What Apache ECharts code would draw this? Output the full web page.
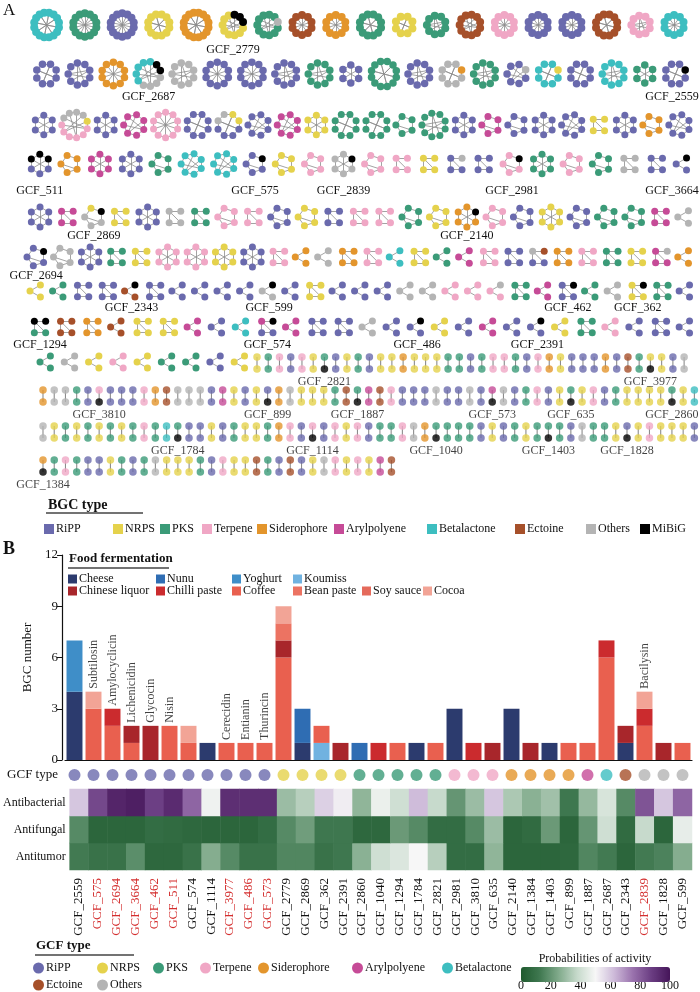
<!DOCTYPE html>
<html>
<head>
<meta charset="utf-8">
<title>BGC networks and food fermentation</title>
<script src="https://cdn.jsdelivr.net/npm/echarts@6.0.0/dist/echarts.min.js"></script>
<style>
  html, body { margin: 0; padding: 0; background: #fff; }
  #main { width: 700px; height: 992px; }
</style>
</head>
<body>
<div id="main"></div>
<script>
// ---------- panel A : BGC networks ----------
const bgcTypes = ['RiPP', 'NRPS', 'PKS', 'Terpene', 'Siderophore', 'Arylpolyene', 'Betalactone', 'Ectoine', 'Others', 'MiBiG'];
const bgcCodes = ['R', 'N', 'P', 'T', 'S', 'A', 'B', 'E', 'O', 'M'];
const bgcColors = ['#6a6aad', '#e5d24c', '#3b9b78', '#f0a7c5', '#e3952c', '#c64b97', '#3dbec0', '#a6502a', '#b4b4b4', '#000000'];

// one entry per GCF cluster: type letter + node count, ":id" marks a labelled GCF
const netRow1 = ['B16', 'P14', 'R14', 'N12', 'S16', 'N8M3:2779', 'P10O1', 'E10', 'S10', 'P12', 'N8', 'P9', 'E11', 'T10', 'R10', 'R10', 'E12', 'T9', 'B10'];
const netRow2 = ['R8', 'R9', 'S10', 'O4B5M2:2687', 'O9', 'R10', 'R10', 'R9', 'P9', 'R6', 'P12', 'R9', 'O7S1', 'P9', 'R6O1', 'B7N1', 'R8', 'B9', 'P6', 'R7M1:2559'];
const netRow3 = ['R6', 'T6O4N1', 'R6', 'A7', 'T10', 'R8', 'R4O2N2', 'R7', 'A7', 'N6', 'P8', 'P8', 'P5', 'P9', 'R6', 'A5', 'R5', 'R6', 'R7', 'N4', 'R6', 'S5', 'R7'];
const netRow4 = ['R3M3:511', 'S5', 'A6', 'R6', 'P5', 'B7', 'B7', 'R4M1:575', 'N5', 'T5', 'O5M1:2839', 'T5', 'T4', 'N4', 'R3O1', 'R4', 'T4M1:2981', 'P6', 'T5', 'P5', 'O4', 'R4', 'R2M1:3664'];
const netRow5 = ['R6', 'A4', 'O3N1M1:2869', 'N4', 'R6', 'O4', 'P4', 'T5', 'T4', 'R5', 'N5', 'R4', 'T4', 'T4', 'P5', 'N5', 'S5M1:2140', 'T5', 'R5', 'N6', 'R5', 'P5', 'P5', 'A4', 'O3'];
const netRow6 = ['R4M1:2694', 'O5', 'R6', 'P4', 'N4', 'T6', 'T6', 'N6', 'R6', 'T4', 'S3', 'O3', 'S4', 'T4', 'B3', 'N4', 'P3', 'A3', 'T4', 'R4', 'R2O1E1', 'S4', 'T4', 'P4', 'N4', 'A3O1', 'S3'];
const netRow7 = ['N3', 'P3', 'R4', 'R4', 'E2M1:2343', 'R4', 'R3', 'R3', 'R3', 'R3', 'O2M1:599', 'R3', 'N4', 'R3', 'R3', 'R3', 'O3', 'O3', 'T3', 'T3', 'T2O1', 'P4', 'A3', 'R3M1:462', 'P3', 'O3', 'N3M1:362', 'P4', 'R3'];
const netRow8 = ['P2M2:1294', 'E4', 'S4', 'E3', 'N4', 'N4', 'A3', 'R3', 'B3', 'R2A1M1:574', 'A3', 'R4', 'R4', 'O3', 'R3', 'R2M1:486', 'N3', 'R3', 'A3', 'R3', 'R2M1:2391', 'N3', 'P4', 'T3', 'R3', 'R4', 'R3'];
const netRow9 = ['P3', 'O3', 'N3', 'T3', 'N3', 'P3', 'P3', 'R3', 'N3'];

// two-node GCFs: type of each pair, positions where the lower node is a MiBiG reference
const pairRow9 = 'NPTRTNPRNPRNNSNNNPPRPTTPRTSNRRRSREPNNRO';
const pairRow9Mibig = [6, 35];
const pairRow9Labels = ['GCF_2821', 'GCF_3977'];
const pairRow10 = 'SOOPRTRRRTSEOOORANRNRSONNNPEPAETRRRORRORAORPTRNPNTRPNNNNPNB';
const pairRow10Mibig = [5, 20, 28, 40, 47, 56];
const pairRow10Labels = ['GCF_3810', 'GCF_899', 'GCF_1887', 'GCF_573', 'GCF_635', 'GCF_2860'];
const pairRow11 = 'ONPNPNPNPTPBPRRNRPNNPSTRTRTNTRPPTOSPPPPRNRPNPPPROPPNRNTNNNR';
const pairRow11Mibig = [12, 24, 35, 45, 52];
const pairRow11Labels = ['GCF_1784', 'GCF_1114', 'GCF_1040', 'GCF_1403', 'GCF_1828'];
const pairRow12 = 'SPTPRRNPRPONNNPRTNNEPRERNOTNTNAE';
const pairRow12Mibig = [0];
const pairRow12Labels = ['GCF_1384'];

// ---------- panel B : food fermentation ----------
const gcfNames = ['GCF_2559', 'GCF_575', 'GCF_2694', 'GCF_3664', 'GCF_462', 'GCF_511', 'GCF_574', 'GCF_1114', 'GCF_3977', 'GCF_486', 'GCF_573',
  'GCF_2779', 'GCF_2869', 'GCF_362', 'GCF_2391', 'GCF_2860', 'GCF_1040', 'GCF_1294', 'GCF_1784', 'GCF_2821', 'GCF_2981', 'GCF_3810',
  'GCF_635', 'GCF_2140', 'GCF_1384', 'GCF_1403', 'GCF_899', 'GCF_1887', 'GCF_2687', 'GCF_2343', 'GCF_2839', 'GCF_1828', 'GCF_599'];
const redGcf = ['GCF_575', 'GCF_2694', 'GCF_3664', 'GCF_462', 'GCF_511', 'GCF_3977', 'GCF_486', 'GCF_573', 'GCF_2839'];
const gcfType = ['RiPP', 'RiPP', 'RiPP', 'RiPP', 'RiPP', 'RiPP', 'RiPP', 'RiPP', 'RiPP', 'RiPP', 'RiPP',
  'NRPS', 'NRPS', 'NRPS', 'NRPS', 'PKS', 'PKS', 'PKS', 'PKS', 'PKS', 'Terpene', 'Terpene', 'Terpene',
  'Siderophore', 'Siderophore', 'Siderophore', 'Siderophore', 'Arylpolyene', 'Betalactone', 'Ectoine', 'Others', 'Others', 'Others'];
const knownPeptide = ['', 'Subtilosin', 'Amylocyclicin', 'Lichenicidin', 'Glycocin', 'Nisin', '', '', 'Cerecidin', 'Entianin', 'Thurincin',
  '', '', '', '', '', '', '', '', '', '', '', '', '', '', '', '', '', '', '', 'Bacilysin', '', ''];

const cheese =        [4, 0, 0, 0, 0, 0, 0, 1, 0, 0, 0, 0, 1, 0, 0, 0, 0, 0, 1, 0, 3, 0, 0, 3, 0, 1, 0, 0, 0, 1, 0, 0, 0];
const nunu =          [0, 0, 0, 0, 0, 0, 0, 0, 0, 0, 0, 0, 2, 0, 0, 1, 0, 0, 0, 0, 0, 0, 0, 0, 0, 0, 0, 0, 0, 0, 0, 0, 0];
const yoghurt =       [3, 0, 0, 0, 0, 0, 0, 0, 0, 0, 0, 0, 0, 0, 0, 0, 0, 0, 0, 0, 0, 0, 0, 0, 0, 0, 0, 0, 0, 0, 0, 0, 0];
const koumiss =       [0, 0, 0, 0, 0, 0, 0, 0, 0, 0, 0, 0, 0, 1, 0, 0, 0, 0, 0, 0, 0, 0, 0, 0, 0, 0, 0, 0, 0, 0, 0, 0, 0];
const coffee =        [0, 3, 2, 1, 0, 2, 1, 0, 1, 1, 1, 6, 0, 1, 0, 0, 0, 1, 0, 1, 0, 0, 0, 0, 0, 0, 1, 1, 6, 0, 2, 0, 1];
const chineseLiquor = [0, 0, 0, 1, 2, 0, 0, 0, 0, 0, 0, 1, 0, 0, 1, 0, 0, 0, 0, 0, 0, 0, 1, 0, 1, 0, 0, 0, 0, 1, 0, 1, 0];
const chilliPaste =   [0, 0, 1, 0, 0, 0, 0, 0, 0, 0, 0, 0, 0, 0, 0, 0, 1, 0, 0, 0, 0, 1, 0, 0, 0, 0, 0, 0, 1, 0, 1, 0, 0];
const beanPaste =     [0, 0, 0, 0, 0, 0, 0, 0, 0, 0, 0, 1, 0, 0, 0, 0, 0, 0, 0, 0, 0, 0, 0, 0, 0, 0, 0, 0, 0, 0, 0, 0, 0];
const soySauce =      [0, 0, 0, 0, 0, 0, 0, 0, 0, 0, 0, 0, 0, 0, 0, 0, 0, 0, 0, 0, 0, 0, 0, 0, 0, 0, 0, 0, 0, 0, 0, 0, 0];
const cocoa =         [0, 1, 0, 0, 0, 0, 1, 0, 0, 0, 0, 1, 0, 0, 0, 0, 0, 0, 0, 0, 0, 0, 0, 0, 0, 0, 0, 0, 0, 0, 1, 0, 0];

const antibacterial = [60, 85, 95, 97, 87, 93, 78, 48, 92, 92, 92, 30, 35, 58, 52, 28, 47, 40, 62, 38, 20, 30, 60, 33, 27, 31, 12, 29, 42, 17, 82, 60, 78];
const antifungal =    [17, 5, 5, 5, 8, 7, 6, 5, 5, 5, 8, 17, 22, 12, 12, 6, 6, 21, 17, 8, 8, 17, 30, 5, 7, 21, 5, 20, 40, 7, 38, 5, 46];
const antitumor =     [13, 10, 10, 18, 6, 6, 10, 26, 17, 10, 10, 16, 16, 10, 12, 27, 40, 43, 50, 35, 8, 8, 28, 5, 5, 5, 6, 16, 13, 5, 13, 15, 26];
const activityNames = ['Antitumor', 'Antifungal', 'Antibacterial'];
const colorbarTicks = [0, 20, 40, 60, 80, 100];

// ---------- helpers ----------
const FONT = '"Liberation Serif", "Times New Roman", serif';
const INK = '#111';
const LINK = '#8c8c8c';
const typeColor = t => bgcColors[bgcTypes.indexOf(t)];
const categories = bgcTypes.map((n, i) => ({ name: n, itemStyle: { color: bgcColors[i] } }));

const grids = [], xAxes = [], yAxes = [], series = [], graphics = [], legends = [];

function addGrid(grid, xa, ya) {
  grids.push(grid);
  const gi = grids.length - 1;
  xAxes.push(Object.assign({ gridIndex: gi }, xa));
  yAxes.push(Object.assign({ gridIndex: gi }, ya));
  return gi;
}

function addText(text, x, y, opt) {
  graphics.push({
    type: 'text', x: x, y: y, silent: true,
    style: Object.assign({ text: text, fill: INK, font: '12px ' + FONT, textAlign: 'center', textVerticalAlign: 'middle', align: 'center', verticalAlign: 'middle' }, opt || {})
  });
}

function addLine(x1, y1, x2, y2, color, w) {
  graphics.push({ type: 'line', silent: true, shape: { x1, y1, x2, y2 }, style: { stroke: color, lineWidth: w } });
}

function parseCluster(spec) {
  const parts = spec.split(':');
  const nodes = [];
  parts[0].replace(/([A-Z])(\d+)/g, (m, c, k) => { for (let i = 0; i < +k; i++) nodes.push(c); return m; });
  return { nodes: nodes, label: parts[1] ? 'GCF_' + parts[1] : null };
}

function clusterLinks(n) {
  const links = [];
  if (n === 3) { links.push([0, 1], [1, 2]); }
  else if (n === 4) { links.push([0, 1], [1, 2], [2, 0], [2, 3]); }
  else {
    for (let i = 0; i < n; i++) links.push([i, (i + 1) % n]);
    if (n === 5) links.push([0, 2]);
    if (n >= 6) for (let i = 0; i < n; i += 2) links.push([i, (i + Math.floor(n / 2)) % n]);
  }
  return links;
}

// layout of each network row (geometry only)
const netLayout = [
  { list: netRow1, cy: 25, k: 6.3, max: 27, node: 8, x0: 34, x1: 684, labelY: 50 },
  { list: netRow2, cy: 74, k: 7.4, max: 26, node: 7.5, x0: 36, x1: 686, labelY: 97 },
  { list: netRow3, cy: 125, k: 8, max: 26, node: 7, x0: 34, x1: 690, labelY: 150 },
  { list: netRow4, cy: 164, k: 8, max: 26, node: 7, x0: 30, x1: 690, labelY: 191 },
  { list: netRow5, cy: 217, k: 8.2, max: 24, node: 7, x0: 30, x1: 692, labelY: 236 },
  { list: netRow6, cy: 257, k: 8.2, max: 24, node: 7, x0: 27, x1: 692, labelY: 276 },
  { list: netRow7, cy: 291, k: 8, max: 20, node: 7, x0: 30, x1: 693, labelY: 308 },
  { list: netRow8, cy: 327, k: 8, max: 22, node: 7, x0: 32, x1: 693, labelY: 345 },
  { list: netRow9, cy: 362, k: 8, max: 18, node: 7, x0: 40, x1: 248, labelY: 380 }
];

netLayout.forEach(L => {
  const clusters = L.list.map(parseCluster);
  const sides = clusters.map(c => Math.min(L.max, L.k * Math.sqrt(c.nodes.length)));
  const total = sides.reduce((a, b) => a + b, 0);
  const gap = (L.x1 - L.x0 - total) / (clusters.length - 1);
  let x = L.x0;
  clusters.forEach((c, ci) => {
    const s = sides[ci];
    const cx = x + s / 2;
    x += s + gap;
    series.push({
      type: 'graph', layout: 'circular', silent: true, roam: false,
      left: cx - s / 2, top: L.cy - s / 2, width: s, height: s,
      symbolSize: L.node, categories: categories,
      data: c.nodes.map((t, i) => ({ id: 'n' + i, name: 'n' + i, category: bgcCodes.indexOf(t) })),
      links: clusterLinks(c.nodes.length).map(p => ({ source: 'n' + p[0], target: 'n' + p[1] })),
      lineStyle: { color: LINK, width: 0.8, opacity: 1, curveness: 0 },
      itemStyle: { borderWidth: 0 },
      label: { show: false },
      emphasis: { disabled: true }
    });
    // keep labels of the right-most GCFs inside the page
    if (c.label) addText(c.label, Math.min(cx, 672), L.labelY);
  });
});

// rows of two-node GCFs drawn on small cartesian grids
const pairLayout = [
  { types: pairRow9, mibig: pairRow9Mibig, labels: pairRow9Labels, x0: 257, top: 357 },
  { types: pairRow10, mibig: pairRow10Mibig, labels: pairRow10Labels, x0: 43, top: 390 },
  { types: pairRow11, mibig: pairRow11Mibig, labels: pairRow11Labels, x0: 43, top: 426 },
  { types: pairRow12, mibig: pairRow12Mibig, labels: pairRow12Labels, x0: 43, top: 460 }
];
const PITCH = 11.24;
pairLayout.forEach(P => {
  const n = P.types.length;
  const idx = Array.from(P.types).map((c, i) => i);
  const gi = addGrid(
    { left: P.x0 - PITCH / 2, top: P.top, width: n * PITCH, height: 12 },
    { type: 'category', data: idx, show: false },
    { type: 'value', min: 0, max: 1, show: false }
  );
  series.push({
    type: 'bar', xAxisIndex: gi, yAxisIndex: gi, silent: true, barWidth: 1.1,
    data: idx.map(() => 1), itemStyle: { color: LINK }
  });
  const pts = [];
  Array.from(P.types).forEach((c, i) => {
    const col = bgcColors[bgcCodes.indexOf(c)];
    pts.push({ value: [i, 1], itemStyle: { color: col } });
    const m = P.mibig.indexOf(i);
    pts.push({
      value: [i, 0], itemStyle: { color: m >= 0 ? '#000' : col },
      label: m >= 0 ? { show: true, formatter: P.labels[m], position: 'bottom', distance: 3, fontSize: 12, fontFamily: FONT, color: INK } : { show: false }
    });
  });
  series.push({ type: 'scatter', xAxisIndex: gi, yAxisIndex: gi, silent: true, symbolSize: 7.5, data: pts, z: 3 });
});

// ---------- panel B grids ----------
const catAxis = { type: 'category', data: gcfNames };
const gBar = addGrid({ left: 65, right: 8, top: 555, height: 205 },
  Object.assign({}, catAxis, {
    axisLine: { lineStyle: { color: INK, width: 1.2 } },
    axisTick: { alignWithLabel: true, length: 4, lineStyle: { color: INK } },
    axisLabel: { show: false }
  }),
  {
    type: 'value', min: 0, max: 12, interval: 3, offset: 3,
    axisLine: { show: true, lineStyle: { color: INK, width: 1.2 } },
    axisTick: { show: true, length: 5, lineStyle: { color: INK } },
    axisLabel: { fontSize: 13, color: INK, fontFamily: FONT, margin: 4 },
    splitLine: { show: false },
    name: 'BGC number', nameLocation: 'middle', nameGap: 26, nameRotate: 90,
    nameTextStyle: { fontSize: 13, color: INK, fontFamily: FONT }
  });

const gType = addGrid({ left: 65, right: 8, top: 768, height: 14 },
  Object.assign({}, catAxis, { show: false }),
  {
    type: 'category', data: ['GCF type'],
    axisLine: { show: false }, axisTick: { show: false },
    axisLabel: { fontSize: 13, color: INK, fontFamily: FONT, margin: 7 }
  });

const gHeat = addGrid({ left: 65, right: 8, top: 789, height: 81 },
  Object.assign({}, catAxis, {
    axisLine: { show: false }, axisTick: { show: false },
    axisLabel: {
      rotate: 90, margin: 8, fontSize: 13, fontFamily: FONT,
      formatter: v => (redGcf.indexOf(v) >= 0 ? '{r|' + v + '}' : '{k|' + v + '}'),
      rich: { r: { color: '#d42f2f', fontSize: 13, fontFamily: FONT }, k: { color: INK, fontSize: 13, fontFamily: FONT } }
    }
  }),
  {
    type: 'category', data: activityNames,
    axisLine: { show: false }, axisTick: { show: false },
    axisLabel: { fontSize: 12, color: INK, fontFamily: FONT, margin: 4 }
  });

const gScale = addGrid({ left: 521, width: 149, top: 968, height: 17 },
  {
    type: 'value', min: 0, max: 100, interval: 20,
    axisLine: { show: false }, splitLine: { show: false },
    axisTick: { show: false },
    axisLabel: { fontSize: 12, color: INK, fontFamily: FONT, margin: 2, customValues: colorbarTicks }
  },
  { type: 'value', show: false });

// stacked bars (bottom to top)
const foodSeries = [
  ['Cheese', cheese, '#2c3b6e'],
  ['Nunu', nunu, '#2f6db3'],
  ['Yoghurt', yoghurt, '#3f8ec8'],
  ['Koumiss', koumiss, '#70b2e0'],
  ['Coffee', coffee, '#e9604f'],
  ['Chinese liquor', chineseLiquor, '#a8262b'],
  ['Chilli paste', chilliPaste, '#cb2b2e'],
  ['Bean paste', beanPaste, '#ec7362'],
  ['Soy sauce', soySauce, '#e56a5b'],
  ['Cocoa', cocoa, '#f2a496']
];
foodSeries.forEach(f => {
  series.push({
    name: f[0], type: 'bar', stack: 'food', xAxisIndex: gBar, yAxisIndex: gBar,
    barWidth: '84%', data: f[1], itemStyle: { color: f[2] }, silent: true
  });
});

// known peptide names above bars
const totals = gcfNames.map((g, i) => foodSeries.reduce((s, f) => s + f[1][i], 0));
series.push({
  name: 'peptides', type: 'scatter', xAxisIndex: gBar, yAxisIndex: gBar, symbolSize: 0, silent: true,
  data: knownPeptide.map((p, i) => (p ? { value: [i, totals[i]], name: p } : null)).filter(Boolean),
  label: {
    show: true, formatter: '{b}', position: 'top', distance: 3, rotate: 90,
    align: 'left', verticalAlign: 'middle', fontSize: 12, fontFamily: FONT, color: INK
  }
});

// GCF type dots
series.push({
  name: 'gcfType', type: 'scatter', xAxisIndex: gType, yAxisIndex: gType, symbolSize: 12, silent: true,
  data: gcfType.map((t, i) => ({ value: [i, 0], itemStyle: { color: typeColor(t) } }))
});

// activity heatmap
const heatData = [];
[antitumor, antifungal, antibacterial].forEach((arr, r) => arr.forEach((v, i) => heatData.push([i, r, v])));
series.push({
  name: 'activity', type: 'heatmap', xAxisIndex: gHeat, yAxisIndex: gHeat, data: heatData, silent: true,
  itemStyle: { borderWidth: 0 }
});
const heatIndex = series.length - 1;

// ---------- legends ----------
function itemLegend(name, left, top, icon, size, fs) {
  legends.push({
    data: [name], left: left, top: top, icon: icon, itemWidth: size, itemHeight: size,
    padding: 0, itemGap: 0, selectedMode: false,
    textStyle: { fontSize: fs, color: INK, fontFamily: FONT, padding: [0, 0, 0, -3] }
  });
}
const bgcLegendX = [44, 113, 160, 202, 257, 334, 427, 515, 586, 640];
bgcTypes.forEach((t, i) => itemLegend(t, bgcLegendX[i], 523, 'rect', 10, 12));

const foodLegendPos = {
  'Cheese': [68, 573], 'Nunu': [156, 573], 'Yoghurt': [232, 573], 'Koumiss': [293, 573],
  'Chinese liquor': [68, 585], 'Chilli paste': [156, 585], 'Coffee': [232, 585], 'Bean paste': [293, 585],
  'Soy sauce': [362, 585], 'Cocoa': [423, 585]
};
Object.keys(foodLegendPos).forEach(k => itemLegend(k, foodLegendPos[k][0], foodLegendPos[k][1], 'rect', 9, 12));

const gcfLegendPos = {
  'RiPP': [33, 962], 'NRPS': [97, 962], 'PKS': [153, 962], 'Terpene': [200, 962], 'Siderophore': [258, 962],
  'Arylpolyene': [352, 962], 'Betalactone': [442, 962], 'Ectoine': [33, 979], 'Others': [97, 979]
};
Object.keys(gcfLegendPos).forEach(k => itemLegend(k, gcfLegendPos[k][0], gcfLegendPos[k][1], 'circle', 11, 12));

// ---------- titles ----------
addText('A', 3, 2, { font: '17px ' + FONT, textAlign: 'left', textVerticalAlign: 'top', align: 'left', verticalAlign: 'top' });
addText('B', 3, 540, { font: 'bold 18px ' + FONT, textAlign: 'left', textVerticalAlign: 'top', align: 'left', verticalAlign: 'top' });
addText('BGC type', 48, 505, { font: 'bold 14px ' + FONT, textAlign: 'left', align: 'left' });
addLine(46, 513, 143, 513, '#444', 1.5);
addText('Food fermentation', 69, 559, { font: 'bold 13px ' + FONT, textAlign: 'left', align: 'left' });
addLine(68, 568, 169, 568, '#444', 1.5);
addText('GCF type', 36, 946, { font: 'bold 13px ' + FONT, textAlign: 'left', align: 'left' });
addLine(35, 955, 134, 955, '#444', 1.5);
addText('Probabilities of activity', 595, 959, { font: '12px ' + FONT });

const option = {
  animation: false,
  backgroundColor: '#fff',
  textStyle: { fontFamily: FONT },
  grid: grids,
  xAxis: xAxes,
  yAxis: yAxes,
  legend: legends,
  visualMap: {
    type: 'continuous', min: 0, max: 100, seriesIndex: heatIndex, orient: 'horizontal',
    left: 521, top: 967, itemWidth: 15, itemHeight: 149, padding: 0, calculable: false, hoverLink: false,
    inRange: { color: ['#1f5a2e', '#3f7850', '#7fa98a', '#c5d9ca', '#f7f7f7', '#cdbad9', '#9a72ad', '#6a3d82', '#451559'] }
  },
  series: series,
  graphic: graphics
};

const chart = echarts.init(document.getElementById('main'), null, { renderer: 'canvas' });
chart.setOption(option);
</script>
</body>
</html>
